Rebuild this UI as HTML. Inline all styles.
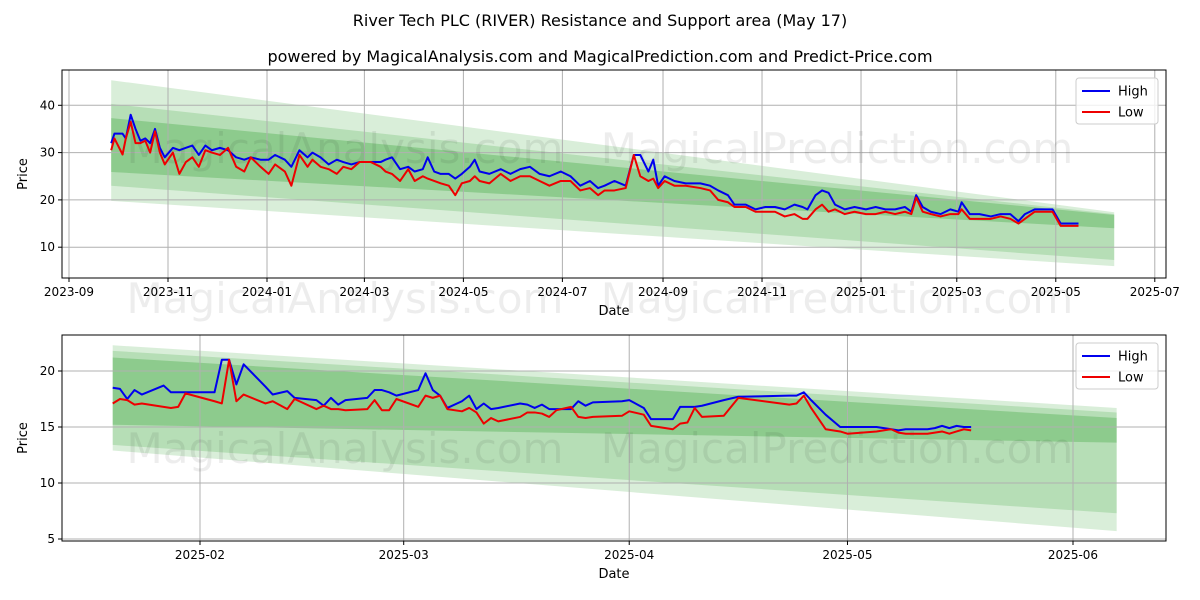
<!DOCTYPE html>
<html><head><meta charset="utf-8"><style>
body{margin:0;background:#fff;font-family:"Liberation Sans","DejaVu Sans",sans-serif}
svg{display:block}
</style></head><body>
<svg id="c" width="1200" height="600" xmlns="http://www.w3.org/2000/svg" font-family="DejaVu Sans, Liberation Sans, sans-serif">
<rect width="1200" height="600" fill="#fff"/>
<text x="600" y="26" text-anchor="middle" font-size="16">River Tech PLC (RIVER) Resistance and Support area (May 17)</text>
<text x="600" y="62" text-anchor="middle" font-size="16">powered by MagicalAnalysis.com and MagicalPrediction.com and Predict-Price.com</text>
</svg>
<script>
// ---- top chart data (days since 2023-09-01) ----
const topDays=[26,28,33,35,38,41,44,47,50,53,56,59,64,68,72,76,80,84,88,93,98,103,108,112,118,123,127,133,137,142,147,150,155,160,165,169,174,179,186,192,195,199,204,209,213,218,221,225,229,234,238,242,247,250,253,259,266,272,278,284,290,296,303,309,315,321,326,330,336,343,348,352,357,360,363,367,373,380,389,395,400,406,410,417,423,429,435,441,447,452,455,460,464,468,472,478,484,491,497,503,509,515,519,522,526,531,537,543,548,550,555,561,568,574,580,585,589,595,601,606,611,617,622];
const topHigh=[32,34,34,33,38,35,32.5,33,32,35,31,29,31,30.5,31,31.5,29.5,31.5,30.5,31,30.5,29,28.5,29,28.5,28.5,29.5,28.5,27,30.5,29,30,29,27.5,28.5,28,27.5,28,28,28,28.5,29,26.5,27,26,26.5,29,26,25.5,25.5,24.5,25.5,27,28.5,26,25.5,26.5,25.5,26.5,27,25.5,25,26,25,23,24,22.5,23,24,23,29.5,29.5,26,28.5,23,25,24,23.5,23.5,23,22,21,19,19,18,18.5,18.5,18,19,18.5,18,21,22,21.5,19,18,18.5,18,18.5,18,18,18.5,17.5,21,18.5,17.5,17,18,17.5,19.5,17,17,16.5,17,17,15.5,17,18,18,18,15,15,15];
const topLow=[30.5,33,29.6,33,36.5,32,32,32.5,30,34.5,30,27.5,30,25.5,28,29,27,30.5,30,29.5,31,27,26,29,27,25.5,27.5,26,23,29.5,27,28.5,27,26.5,25.5,27,26.5,28,28,27,26,25.5,24,26.5,24,25,24.5,24,23.5,23,21,23.5,24,25,24,23.5,25.5,24,25,25,24,23,24,24,22,22.5,21,22,22,22.5,29.5,25,24,24.5,22.5,24,23,23,22.5,22,20,19.5,18.5,18.5,17.5,17.5,17.5,16.5,17,16,16,18,19,17.5,18,17,17.5,17,17,17.5,17,17.5,17,20.5,17.5,17,16.5,17,17,18,16,16,16,16.5,16,15,16,17.5,17.5,17.5,14.5,14.5,14.5];
const topTickDays=[0,61,122,182,243,304,366,427,488,547,608,669];
const topTickLabels=["2023-09","2023-11","2024-01","2024-03","2024-05","2024-07","2024-09","2024-11","2025-01","2025-03","2025-05","2025-07"];
const topYTicks=[10,20,30,40];
const topBandDays=[26,644];
const topBandUpperStart=[45.3,40.3,37.3];
const topBandUpperEnd=[17.4,17.0,16.8];
const topBandLowerStart=[19.8,23.0,25.9];
const topBandLowerEnd=[6.0,7.3,14.0];
// ---- bottom chart data (days since 2025-01-01) ----
const botDays=[19,20,21,22,23,26,27,28,29,33,34,35,36,37,40,41,43,44,47,48,49,50,51,54,55,56,57,58,61,62,63,64,65,67,68,69,70,71,72,75,76,77,78,79,80,82,83,84,85,89,90,92,93,96,97,98,99,100,103,105,112,113,114,115,117,119,120,124,126,127,128,131,132,133,134,135,136,137];
const botHigh=[18.5,18.4,17.5,18.3,17.9,18.7,18.1,18.1,18.1,18.1,21.0,21.0,18.8,20.6,18.6,17.9,18.2,17.6,17.4,16.9,17.6,17.0,17.4,17.6,18.3,18.3,18.1,17.8,18.3,19.8,18.3,17.8,16.7,17.3,17.8,16.6,17.1,16.6,16.7,17.1,17.0,16.7,17.0,16.6,16.6,16.6,17.3,16.9,17.2,17.3,17.4,16.7,15.7,15.7,16.8,16.8,16.8,16.9,17.4,17.7,17.8,17.8,18.1,17.4,16.1,15.0,15.0,15.0,14.8,14.7,14.8,14.8,14.9,15.1,14.9,15.1,15.0,15.0];
const botLow=[17.1,17.5,17.4,17.0,17.1,16.8,16.7,16.8,18.0,17.3,17.1,21.0,17.3,17.9,17.1,17.3,16.6,17.5,16.6,16.9,16.6,16.6,16.5,16.6,17.4,16.5,16.5,17.5,16.8,17.8,17.6,17.8,16.6,16.4,16.7,16.3,15.3,15.8,15.5,15.9,16.3,16.3,16.2,15.9,16.5,16.8,15.9,15.8,15.9,16.0,16.4,16.1,15.1,14.8,15.3,15.4,16.7,15.9,16.0,17.6,17.0,17.1,17.8,16.7,14.8,14.6,14.4,14.6,14.8,14.5,14.4,14.4,14.5,14.6,14.4,14.6,14.8,14.7];
const botTickDays=[31,59,90,120,151];
const botTickLabels=["2025-02","2025-03","2025-04","2025-05","2025-06"];
const botYTicks=[5,10,15,20];
const botBandDays=[19,157];
const botBandUpperStart=[22.3,21.8,21.2];
const botBandUpperEnd=[16.7,16.3,15.8];
const botBandLowerStart=[12.9,13.4,15.2];
const botBandLowerEnd=[5.7,7.3,13.6];

const NS="http://www.w3.org/2000/svg";
const svg=document.getElementById('c');
function mk(tag,attrs,parent){const e=document.createElementNS(NS,tag);for(const k in attrs)e.setAttribute(k,attrs[k]);(parent||svg).appendChild(e);return e;}

function drawPanel(p){
  const g=mk('g',{});
  
  
  const X=d=>p.x0+(d-p.d0)*p.dx;
  const Y=v=>p.y0-(v-p.v0)*p.dy;
  // bands
  const alphas=[0.18,0.2,0.3];
  for(let i=0;i<p.bus.length;i++){
    const pts=[[X(p.bd[0]),Y(p.bus[i])],[X(p.bd[1]),Y(p.bue[i])],[X(p.bd[1]),Y(p.ble[i])],[X(p.bd[0]),Y(p.bls[i])]];
    const b=mk('polygon',{points:pts.map(q=>q.join(',')).join(' '),fill:'#2e9e2e','fill-opacity':alphas[i]},g);
    
    
  }
  // grid
  p.xt.forEach((d,i)=>{
    const x=X(d);
    mk('line',{x1:x,x2:x,y1:p.top,y2:p.bot,stroke:'#b0b0b0','stroke-width':1},g);
    mk('line',{x1:x,x2:x,y1:p.bot,y2:p.bot+4,stroke:'#000'},g);
    const t=mk('text',{x:x,y:p.bot+18,'text-anchor':'middle','font-size':12},g);t.textContent=p.xl[i];
    
    
  });
  p.yt.forEach(v=>{
    const y=Y(v);
    mk('line',{x1:p.left,x2:p.right,y1:y,y2:y,stroke:'#b0b0b0','stroke-width':1},g);
    mk('line',{x1:p.left-4,x2:p.left,y1:y,y2:y,stroke:'#000'},g);
    const t=mk('text',{x:p.left-7,y:y+4,'text-anchor':'end','font-size':12},g);t.textContent=v;
    
    
  });
  // watermarks
  p.wm.forEach(w=>{const t=mk('text',{x:w[0],y:w[1],'font-size':42,fill:'#000','fill-opacity':0.07,'text-anchor':'middle'},g);t.textContent=w[2];
    
    });
  // lines
  const line=(vals,col,name)=>{
    const l=mk('polyline',{points:p.days.map((d,i)=>X(d)+','+Y(vals[i])).join(' '),fill:'none',stroke:col,'stroke-width':2,'stroke-linejoin':'round'},g);
    
    
  };
  line(p.high,'#0000ee','high-line');
  line(p.low,'#ee0000','low-line');
  mk('rect',{x:p.left,y:p.top,width:p.right-p.left,height:p.bot-p.top,fill:'none',stroke:'#000','stroke-width':1},g);
  const xl=mk('text',{x:(p.left+p.right)/2,y:p.bot+37,'text-anchor':'middle','font-size':13},g);xl.textContent='Date';
  
  
  const yl=mk('text',{x:27,y:(p.top+p.bot)/2,'text-anchor':'middle','font-size':13,transform:`rotate(-90 27 ${(p.top+p.bot)/2})`},g);yl.textContent='Price';
  
  
  // legend
  const lg=mk('g',{},g);
  
  
  const lx=p.right-90,ly=p.top+8;
  mk('rect',{x:lx,y:ly,width:82,height:46,rx:3,fill:'#fff','fill-opacity':0.8,stroke:'#ccc'},lg);
  [['High','#0000ee'],['Low','#ee0000']].forEach((e,i)=>{
    const yy=ly+13+i*21;
    mk('line',{x1:lx+6,x2:lx+34,y1:yy,y2:yy,stroke:e[1],'stroke-width':2},lg);
    const t=mk('text',{x:lx+42,y:yy+4.5,'font-size':13},lg);t.textContent=e[0];
    
    
  });
}
drawPanel({name:'top-panel',left:62,right:1166,top:70,bot:278,x0:69,d0:0,dx:1.623,y0:294.5,v0:0,dy:4.73,
  days:topDays,high:topHigh,low:topLow,xt:topTickDays,xl:topTickLabels,yt:topYTicks,
  bd:topBandDays,bus:topBandUpperStart,bue:topBandUpperEnd,bls:topBandLowerStart,ble:topBandLowerEnd,
  wm:[[345,163,'MagicalAnalysis.com'],[837,163,'MagicalPrediction.com'],[345,313,'MagicalAnalysis.com'],[837,313,'MagicalPrediction.com']]});
drawPanel({name:'bottom-panel',left:62,right:1166,top:335,bot:541,x0:200,d0:31,dx:7.275,y0:371,v0:20,dy:11.2,
  days:botDays,high:botHigh,low:botLow,xt:botTickDays,xl:botTickLabels,yt:botYTicks,
  bd:botBandDays,bus:botBandUpperStart,bue:botBandUpperEnd,bls:botBandLowerStart,ble:botBandLowerEnd,
  wm:[[345,463,'MagicalAnalysis.com'],[837,463,'MagicalPrediction.com']]});
</script>
</body></html>
